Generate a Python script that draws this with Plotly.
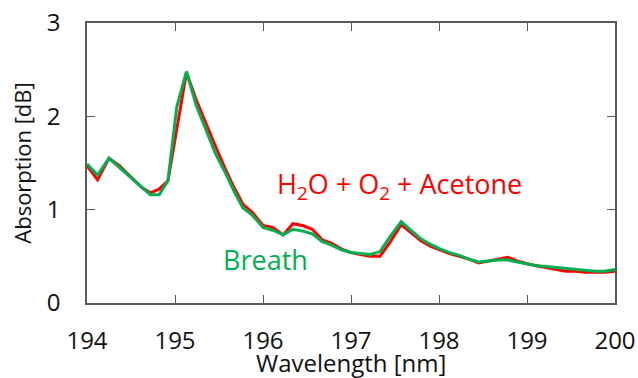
import plotly.graph_objects as go

wavelength = [194.0, 194.12, 194.25, 194.37, 194.5, 194.62, 194.72, 194.82, 194.92, 195.02,
              195.13, 195.24, 195.35, 195.46, 195.57, 195.67, 195.77, 195.88, 196.0, 196.11,
              196.23, 196.34, 196.45, 196.56, 196.67, 196.78, 196.89, 197.0, 197.11, 197.22,
              197.33, 197.45, 197.57, 197.68, 197.79, 197.9, 198.01, 198.12, 198.23, 198.34,
              198.45, 198.56, 198.67, 198.78, 198.89, 199.0, 199.11, 199.22, 199.33, 199.44,
              199.55, 199.66, 199.77, 199.88, 200.0]

mixture = [1.47, 1.32, 1.55, 1.47, 1.35, 1.24, 1.18, 1.22, 1.31, 1.88,
           2.47, 2.18, 1.92, 1.68, 1.44, 1.24, 1.06, 0.97, 0.83, 0.81,
           0.73, 0.85, 0.83, 0.79, 0.68, 0.64, 0.58, 0.54, 0.52, 0.50,
           0.50, 0.66, 0.84, 0.76, 0.67, 0.61, 0.57, 0.53, 0.50, 0.47,
           0.43, 0.45, 0.47, 0.49, 0.45, 0.42, 0.40, 0.38, 0.36, 0.34,
           0.34, 0.33, 0.33, 0.33, 0.34]

breath = [1.49, 1.37, 1.55, 1.45, 1.35, 1.24, 1.16, 1.16, 1.31, 2.10,
          2.48, 2.12, 1.85, 1.60, 1.40, 1.20, 1.02, 0.94, 0.81, 0.78,
          0.73, 0.79, 0.77, 0.74, 0.66, 0.62, 0.57, 0.54, 0.53, 0.52,
          0.55, 0.72, 0.87, 0.78, 0.69, 0.63, 0.58, 0.54, 0.51, 0.47,
          0.44, 0.45, 0.46, 0.46, 0.44, 0.42, 0.40, 0.39, 0.38, 0.37,
          0.36, 0.35, 0.34, 0.34, 0.36]

x_ticks = [194, 195, 196, 197, 198, 199, 200]
y_ticks = [0, 1, 2, 3]

RED = "#FF0000"
GREEN = "#00B050"
FONT = "Open Sans"

fig = go.Figure()
fig.add_trace(go.Scatter(x=wavelength, y=mixture, mode="lines",
                         line=dict(color=RED, width=3), showlegend=False))
fig.add_trace(go.Scatter(x=wavelength, y=breath, mode="lines",
                         line=dict(color=GREEN, width=3), showlegend=False))

axis_common = dict(showline=True, linecolor="#595959", linewidth=1.5, mirror="ticks",
                   ticks="inside", ticklen=8, tickwidth=1.2, tickcolor="#595959",
                   showgrid=False, zeroline=False, automargin=False,
                   tickfont=dict(family=FONT, size=24, color="#111111"))

fig.update_xaxes(range=[194, 200], tickvals=x_ticks, ticklabelstandoff=15,
                 **axis_common)
fig.update_yaxes(range=[0, 3], tickvals=y_ticks, ticklabelstandoff=20,
                 title=dict(text="Absorption [dB]", standoff=9,
                            font=dict(family=FONT, size=22, color="#111111")),
                 **axis_common)

# x-axis title as a paper-anchored label so it sits just below the tick labels
fig.add_annotation(x=0.5, y=0, xref="paper", yref="paper", yanchor="top",
                   yshift=-41, showarrow=False, text="Wavelength [nm]",
                   font=dict(family=FONT, size=24, color="#111111"))

fig.add_annotation(x=197.55, y=1.26, xref="x", yref="y", showarrow=False,
                   text="H<sub>2</sub>O + O<sub>2</sub> + Acetone",
                   font=dict(family=FONT, size=27, color=RED))
fig.add_annotation(x=196.03, y=0.47, xref="x", yref="y", showarrow=False,
                   text="Breath", font=dict(family=FONT, size=27, color=GREEN))

fig.update_layout(width=638, height=378, margin=dict(l=87, r=23, t=23, b=75),
                  plot_bgcolor="white", paper_bgcolor="white",
                  font=dict(family=FONT))

fig.write_html("out.html")
